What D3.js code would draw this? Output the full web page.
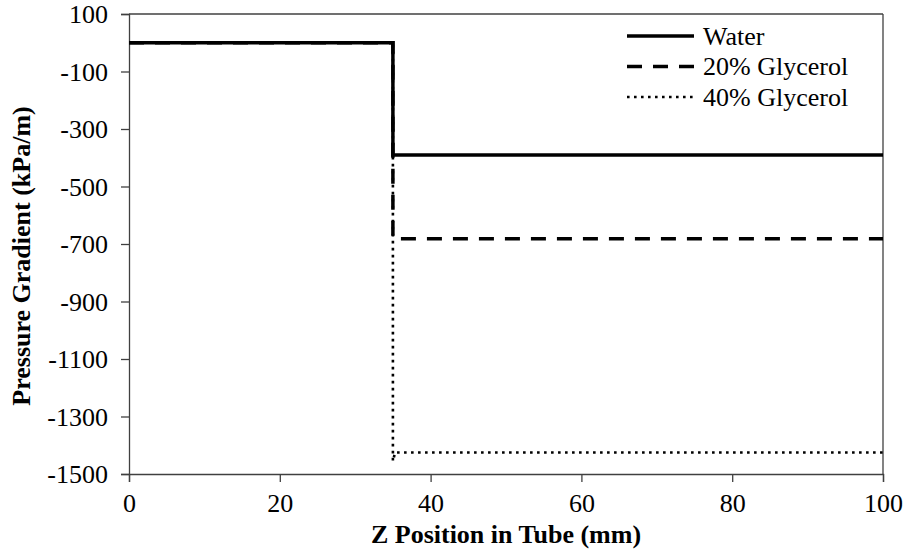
<!DOCTYPE html>
<html>
<head>
<meta charset="utf-8">
<script src="https://cdn.jsdelivr.net/npm/d3@7"></script>
<style>
  html, body { margin: 0; padding: 0; background: #fff; }
  svg text { font-family: "Liberation Serif", "Tinos", "DejaVu Serif", "Noto Serif", serif; fill: #000; }
</style>
</head>
<body>
<svg id="chart" width="906" height="552"></svg>
<script>
// Pressure gradient along the tube for three fluids (step at the inlet region)
const seriesNames = ["Water", "20% Glycerol", "40% Glycerol"];
const waterZ = [0, 35, 35, 100];
const waterP = [0, 0, -390, -390];
const gly20Z = [0, 35, 35, 100];
const gly20P = [0, 0, -682, -682];
const gly40Z = [0, 35, 35, 35.3, 100];
const gly40P = [0, 0, -1455, -1425, -1425];
const xTicks = [0, 20, 40, 60, 80, 100];
const yTicks = [100, -100, -300, -500, -700, -900, -1100, -1300, -1500];

const FONT = '"Liberation Serif", "Tinos", "DejaVu Serif", "Noto Serif", serif';

const svg = d3.select("#chart");
const margin = { left: 129, right: 23, top: 14, bottom: 78 };
const W = 906, H = 552;

const x = d3.scaleLinear().domain([0, 100]).range([margin.left, W - margin.right]);
const y = d3.scaleLinear().domain([-1500, 100]).range([H - margin.bottom, margin.top]);

const axisColor = "#404040";

// frame lines on top and right
svg.append("line")
  .attr("x1", x(0)).attr("x2", x(100)).attr("y1", y(100)).attr("y2", y(100))
  .attr("stroke", axisColor).attr("stroke-width", 1.3);
svg.append("line")
  .attr("x1", x(100)).attr("x2", x(100)).attr("y1", y(100)).attr("y2", y(-1500))
  .attr("stroke", axisColor).attr("stroke-width", 1.3);

// axes
const xAxis = svg.append("g")
  .attr("transform", `translate(0,${y(-1500)})`)
  .call(d3.axisBottom(x).tickValues(xTicks).tickSize(8).tickPadding(10).tickFormat(d3.format("d")));
const yAxis = svg.append("g")
  .attr("transform", `translate(${x(0)},0)`)
  .call(d3.axisLeft(y).tickValues(yTicks).tickSize(8).tickPadding(13).tickFormat(d => d < 0 ? "-" + Math.abs(d) : d));

[xAxis, yAxis].forEach(g => {
  g.attr("font-family", FONT);
  g.select(".domain").attr("stroke", axisColor).attr("stroke-width", 1.3);
  g.selectAll(".tick line").attr("stroke", axisColor).attr("stroke-width", 1.3);
  g.selectAll(".tick text")
    .style("font-family", FONT)
    .style("font-size", "26px").attr("fill", "#000");
});
xAxis.selectAll(".tick text").attr("dy", "0.75em");
yAxis.selectAll(".tick text").attr("dy", "0.33em");

// series lines
const line = d3.line().x(d => x(d[0])).y(d => y(d[1]));
const zip = (zs, ps) => zs.map((z, i) => [z, ps[i]]);

const series = [
  { name: seriesNames[2], data: zip(gly40Z, gly40P), dash: "2.6 4.4", width: 2.6 },
  { name: seriesNames[1], data: zip(gly20Z, gly20P), dash: "15 11", width: 3.5 },
  { name: seriesNames[0], data: zip(waterZ, waterP), dash: null, width: 3.5 }
];

svg.append("g").selectAll("path")
  .data(series)
  .join("path")
  .attr("d", d => line(d.data))
  .attr("fill", "none")
  .attr("stroke", "#000")
  .attr("stroke-width", d => d.width)
  .attr("stroke-dasharray", d => d.dash);

// legend
const legendRows = [
  { name: seriesNames[0], dash: null, width: 3.5 },
  { name: seriesNames[1], dash: "15 11", width: 3.5 },
  { name: seriesNames[2], dash: "2.6 4.4", width: 2.6 }
];
const legend = svg.append("g").attr("transform", "translate(627,36)");
const rowH = 30.5;
legendRows.forEach((r, i) => {
  const gy = i * rowH;
  legend.append("line")
    .attr("x1", 0).attr("x2", 67).attr("y1", gy).attr("y2", gy)
    .attr("stroke", "#000").attr("stroke-width", r.width)
    .attr("stroke-dasharray", r.dash);
  legend.append("text")
    .attr("x", 76).attr("y", gy).attr("dy", "0.33em")
    .style("font-family", FONT)
    .style("font-size", "26px")
    .text(r.name);
});

// axis titles
svg.append("text")
  .attr("x", (x(0) + x(100)) / 2).attr("y", 543)
  .attr("text-anchor", "middle")
  .style("font-family", FONT)
  .style("font-size", "26px").style("font-weight", "bold")
  .text("Z Position in Tube (mm)");

svg.append("text")
  .attr("transform", `translate(30,${(y(100) + y(-1500)) / 2 + 12}) rotate(-90)`)
  .attr("text-anchor", "middle")
  .style("font-family", FONT)
  .style("font-size", "26px").style("font-weight", "bold")
  .text("Pressure Gradient (kPa/m)");
</script>
</body>
</html>
